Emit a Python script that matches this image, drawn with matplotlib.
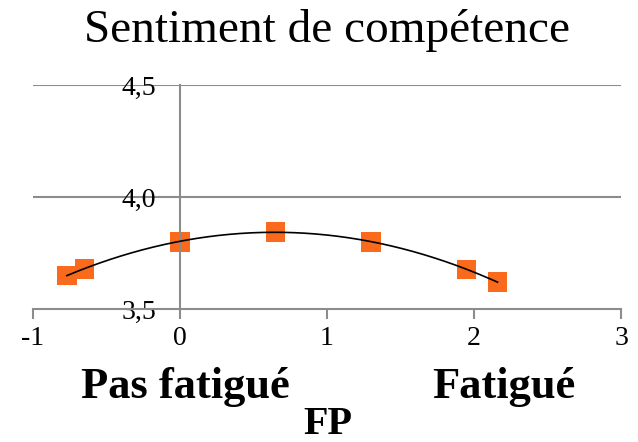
import numpy as np
import matplotlib
matplotlib.use("Agg")
import matplotlib.pyplot as plt
from matplotlib.ticker import FuncFormatter

plt.rcParams["axes.unicode_minus"] = False

# Data
fp = [-0.77, -0.65, 0.0, 0.65, 1.30, 1.95, 2.16]
competence = [3.65, 3.68, 3.80, 3.845, 3.80, 3.677, 3.62]
x_ticks = [-1, 0, 1, 2, 3]
y_ticks = [3.5, 4.0, 4.5]
title = "Sentiment de compétence"
label_left = "Pas fatigué"
label_right = "Fatigué"
x_title = "FP"

fig = plt.figure(figsize=(6.38, 4.42), dpi=100)
ax = fig.add_axes([33/638, 1-309/442, (621-33)/638, (309-85)/442])

grid_c = "#8c8c8c"
for yv in y_ticks[1:]:
    ax.axhline(yv, color=grid_c, lw=1.5, zorder=1)

# quadratic trendline
coef = np.polyfit(fp, competence, 2)
xs = np.linspace(min(fp), max(fp), 200)
ax.plot(xs, np.polyval(coef, xs), color="black", lw=1.2, zorder=3)

ax.scatter(fp, competence, marker="s", s=200, color="#F96A1C", edgecolors="none", zorder=2)

ax.set_xlim(-1, 3)
ax.set_ylim(3.5, 4.5)
ax.set_xticks(x_ticks)
ax.set_yticks(y_ticks)
ax.yaxis.set_major_formatter(FuncFormatter(lambda v, p: f"{v:.1f}".replace(".", ",")))

for s in ["top", "right"]:
    ax.spines[s].set_visible(False)
ax.spines["left"].set_position(("data", 0))
ax.spines["left"].set_color(grid_c)
ax.spines["left"].set_linewidth(1.5)
ax.spines["bottom"].set_color(grid_c)
ax.spines["bottom"].set_linewidth(1.5)

serif = ["Liberation Serif"]
ax.tick_params(axis="y", length=0, pad=17, labelsize=20)
ax.tick_params(axis="x", length=7, width=1.5, color=grid_c, pad=5, labelsize=20)
for lab in ax.get_xticklabels() + ax.get_yticklabels():
    lab.set_fontfamily(serif)

fig.text(327/638, 1-31/442, title, ha="center", va="center", fontsize=34, family=serif)
fig.text(185/638, 1-387/442, label_left, ha="center", va="center", fontsize=32,
         fontweight="bold", family=serif)
fig.text(504/638, 1-387/442, label_right, ha="center", va="center", fontsize=32,
         fontweight="bold", family=serif)
fig.text(328/638, 1-425/442, x_title, ha="center", va="center", fontsize=29,
         fontweight="bold", family=serif)

fig.savefig("out.png", dpi=100)
